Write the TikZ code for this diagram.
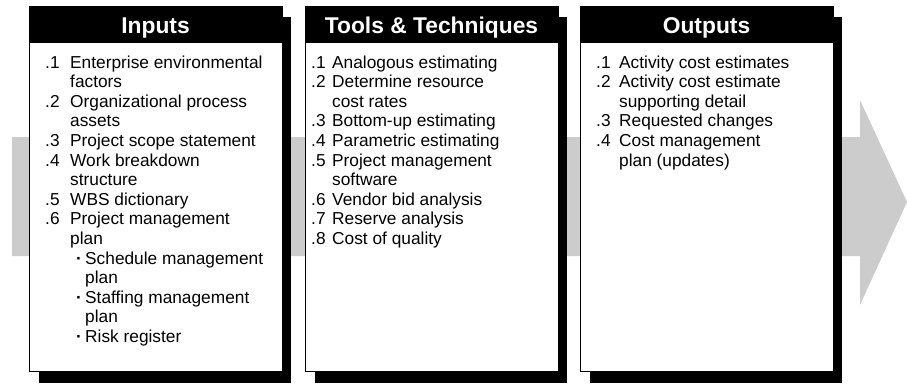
\documentclass[tikz,border=0pt]{standalone}
\usepackage{fontspec}
\setmainfont{Liberation Sans}
\definecolor{arrowgray}{RGB}{204,204,204}
\newcommand{\subbul}{\hspace{6pt}\makebox[9pt][l]{\bfseries ·}}
\begin{document}
\begin{tikzpicture}[x=1pt,y=-1pt,
  shadowfill/.style={fill=black},
  mainbox/.style={fill=white,draw=black,line width=1.2pt,anchor=north west,minimum width=253pt,minimum height=365pt,inner sep=0pt},
  headbar/.style={fill=black,anchor=north west,minimum width=253pt,minimum height=37pt,inner sep=0pt},
  headtext/.style={text=white,font=\fontsize{22.8}{26}\selectfont\bfseries,anchor=base,inner sep=0pt},
  listtext/.style={anchor=base west,inner sep=0pt,font=\fontsize{17.3}{19.6}\selectfont}]
\useasboundingbox (0,0) rectangle (907,383);
% big gray arrow
\fill[arrowgray] (12,137) -- (860,137) -- (860,100) -- (907,202) -- (860,305) -- (860,256) -- (12,256) -- cycle;
% shadows
\fill[shadowfill] (39,17) rectangle (291,383);
\fill[shadowfill] (315,17) rectangle (567,383);
\fill[shadowfill] (590,17) rectangle (842,383);
% boxes
\node[mainbox] (inbox) at (29,6) {};
\node[mainbox] (toolbox) at (305,6) {};
\node[mainbox] (outbox) at (580,6) {};
% headers
\node[headbar] (inhead) at (29,6) {};
\node[headbar] (toolhead) at (305,6) {};
\node[headbar] (outhead) at (580,6) {};
\node[headtext] (intitle) at (155.5,33) {Inputs};
\node[headtext] (tooltitle) at (431.5,33) {Tools \& Techniques};
\node[headtext] (outtitle) at (706.5,33) {Outputs};
% lists
\node[listtext] (inlist) at (45,68) {\begin{tabular}[t]{@{}p{25pt}@{}l@{}}
.1 & Enterprise environmental\\
 & factors\\
.2 & Organizational process\\
 & assets\\
.3 & Project scope statement\\
.4 & Work breakdown\\
 & structure\\
.5 & WBS dictionary\\
.6 & Project management\\
 & plan\\
 & \subbul Schedule management\\
 & \hspace{15pt}plan\\
 & \subbul Staffing management\\
 & \hspace{15pt}plan\\
 & \subbul Risk register
\end{tabular}};
\node[listtext] (toollist) at (311,68) {\begin{tabular}[t]{@{}p{21pt}@{}l@{}}
.1 & Analogous estimating\\
.2 & Determine resource\\
 & cost rates\\
.3 & Bottom-up estimating\\
.4 & Parametric estimating\\
.5 & Project management\\
 & software\\
.6 & Vendor bid analysis\\
.7 & Reserve analysis\\
.8 & Cost of quality
\end{tabular}};
\node[listtext] (outlist) at (596,68) {\begin{tabular}[t]{@{}p{23pt}@{}l@{}}
.1 & Activity cost estimates\\
.2 & Activity cost estimate\\
 & supporting detail\\
.3 & Requested changes\\
.4 & Cost management\\
 & plan (updates)
\end{tabular}};
\end{tikzpicture}
\end{document}
